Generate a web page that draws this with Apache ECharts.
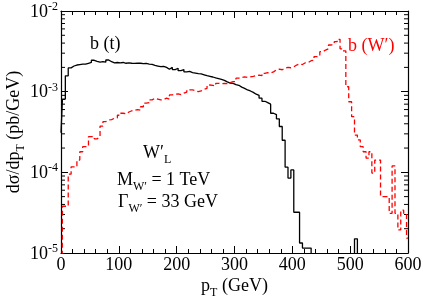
<!DOCTYPE html>
<html><head><meta charset="utf-8">
<script src="https://cdn.jsdelivr.net/npm/echarts@6/dist/echarts.min.js"></script>
<style>html,body{margin:0;padding:0;background:#fff}#c{width:423px;height:297px}</style>
</head><body><div id="c"></div>
<script>
// bin width 5 GeV, bin centres 0,5,...,600
var binWidth = 5;
var blackVals = [
3.1e-4,8.1e-4,1.57e-3,1.97e-3,2.08e-3,2.14e-3,2.17e-3,2.2e-3,2.2e-3,2.25e-3,
2.3e-3,2.45e-3,2.38e-3,2.33e-3,2.36e-3,2.32e-3,2.47e-3,2.35e-3,2.28e-3,2.3e-3,
2.27e-3,2.3e-3,2.25e-3,2.27e-3,2.25e-3,2.24e-3,2.26e-3,2.25e-3,2.23e-3,2.24e-3,
2.2e-3,2.18e-3,2.12e-3,2.08e-3,2.04e-3,2.06e-3,2.0e-3,1.9e-3,2.0e-3,1.88e-3,
1.95e-3,1.82e-3,1.88e-3,1.76e-3,1.78e-3,1.72e-3,1.7e-3,1.67e-3,1.66e-3,1.62e-3,
1.58e-3,1.55e-3,1.52e-3,1.48e-3,1.45e-3,1.42e-3,1.38e-3,1.32e-3,1.28e-3,1.27e-3,
1.22e-3,1.2e-3,1.14e-3,1.1e-3,1.05e-3,1.02e-3,9.8e-4,9.3e-4,9.0e-4,8.3e-4,
7.6e-4,7.3e-4,7.0e-4,5.4e-4,5.2e-4,4.6e-4,3.7e-4,2.5e-4,1.16e-4,8.5e-5,
1.07e-4,3.2e-5,3.2e-5,1.33e-5,1.15e-5,1.15e-5,1.15e-5,
0,0,0,0,0,0,0,0,0,0,0,0,0,0,0,
1.5e-5,
0,0,0,0,0,0,0,0,0,0,0,0,0,0,0,0,0,0
];
var redVals = [
0,3.8e-5,3.8e-5,9.5e-5,1.17e-4,1.17e-4,1.42e-4,1.8e-4,2.08e-4,2.1e-4,
2.77e-4,2.77e-4,2.6e-4,2.75e-4,3.75e-4,4.25e-4,4.45e-4,4.5e-4,4.68e-4,4.75e-4,
5.1e-4,5.4e-4,5.3e-4,5.6e-4,5.8e-4,5.9e-4,6.0e-4,5.9e-4,6.5e-4,7.2e-4,
7.3e-4,7.9e-4,8.3e-4,8.1e-4,7.9e-4,8.0e-4,8.3e-4,8.1e-4,9.1e-4,9.3e-4,
9.4e-4,9.2e-4,9.6e-4,9.9e-4,1.05e-3,1.05e-3,1.03e-3,1.0e-3,1.02e-3,1.07e-3,
1.1e-3,1.21e-3,1.2e-3,1.18e-3,1.27e-3,1.25e-3,1.27e-3,1.26e-3,1.29e-3,1.33e-3,
1.33e-3,1.47e-3,1.5e-3,1.53e-3,1.5e-3,1.53e-3,1.55e-3,1.58e-3,1.6e-3,1.58e-3,
1.69e-3,1.72e-3,1.7e-3,1.76e-3,1.86e-3,1.9e-3,1.87e-3,1.95e-3,2.0e-3,1.98e-3,
2.03e-3,2.14e-3,2.2e-3,2.17e-3,2.28e-3,2.3e-3,2.42e-3,2.45e-3,2.72e-3,2.75e-3,
3.13e-3,3.28e-3,3.4e-3,3.79e-3,3.9e-3,4.17e-3,4.46e-3,3.4e-3,3.2e-3,1.15e-3,
7.5e-4,4.9e-4,2.9e-4,2.52e-4,2.08e-4,1.8e-4,1.5e-4,1.8e-4,9.8e-5,1.42e-4,
1.42e-4,5.0e-5,5.0e-5,5.0e-5,3.1e-5,1.2e-4,3.1e-5,1.93e-5,3.4e-5,3.1e-5,
1.53e-5
];
var xTicks = [0,100,200,300,400,500,600];
var yDecades = [1e-5,1e-4,1e-3,1e-2];

var XMIN = 0, XMAX = 600, FLOOR = 1e-9;
function histPoints(vals){
  var pts = [];
  for (var i = 0; i < vals.length; i++){
    var c = i*binWidth;
    var lo = Math.max(XMIN, c - binWidth/2);
    pts.push([lo, vals[i] > 0 ? vals[i] : FLOOR]);
  }
  var last = vals[vals.length-1];
  pts.push([XMAX, last > 0 ? last : FLOOR]);
  return pts;
}
var minorVals = [];
for (var d = 0; d < yDecades.length-1; d++){
  for (var k = 2; k <= 9; k++) minorVals.push([0, yDecades[d]*k]);
}
var FONT = 'Liberation Serif';
var subRich = {
  a:{fontFamily:FONT, fontSize:18, color:'#000', fill:'#000', verticalAlign:'bottom'},
  s:{fontFamily:FONT, fontSize:12, color:'#000', fill:'#000', verticalAlign:'bottom', padding:[0,0,-4,0]}
};
var chart = echarts.init(document.getElementById('c'), null, {renderer:'canvas'});
var xAxisCommon = {
  type:'value', min:XMIN, max:XMAX, interval:100,
  axisLine:{show:true, onZero:false, lineStyle:{color:'#000', width:1.2}},
  axisTick:{show:true, inside:true, length:7, lineStyle:{color:'#000'}},
  minorTick:{show:true, splitNumber:5, length:4, lineStyle:{color:'#000'}},
  splitLine:{show:false}
};
var yAxisCommon = {
  type:'log', logBase:10, min:1e-5, max:1e-2,
  axisLine:{show:true, onZero:false, lineStyle:{color:'#000', width:1.2}},
  axisTick:{show:true, inside:true, length:7, lineStyle:{color:'#000'}},
  splitLine:{show:false}
};
chart.setOption({
  animation:false,
  backgroundColor:'#fff',
  grid:{left:61, right:15, top:11, bottom:44, containLabel:false, outerBoundsMode:'none'},
  xAxis:[
    Object.assign({}, xAxisCommon, {
      position:'bottom',
      axisLabel:{color:'#000', fontFamily:FONT, fontSize:18, margin:3},
      name:'{a|p}{s|T}{a| (GeV)}', nameLocation:'middle', nameGap:24, nameMoveOverlap:false,
      nameTextStyle:{rich:subRich}
    }),
    Object.assign({}, xAxisCommon, {position:'top', axisLabel:{show:false}})
  ],
  yAxis:[
    Object.assign({}, yAxisCommon, {
      position:'left',
      axisLabel:{
        margin:3,
        formatter:function(v){ return '{b|10}{s|' + Math.round(Math.log10(v)) + '}'; },
        rich:{
          b:{fontFamily:FONT, fontSize:18, color:'#000', lineHeight:20, verticalAlign:'bottom'},
          s:{fontFamily:FONT, fontSize:12, color:'#000', lineHeight:20, verticalAlign:'top'}
        }
      },
      name:'{a|dσ/dp}{s|T}{a| (pb/GeV)}', nameLocation:'middle', nameGap:38, nameRotate:90,
      nameMoveOverlap:false,
      nameTextStyle:{rich:subRich}
    }),
    Object.assign({}, yAxisCommon, {position:'right', axisLabel:{show:false}})
  ],
  series:[
    {type:'line', name:'b (t)', data:histPoints(blackVals), step:'end', showSymbol:false, symbol:'none',
     clip:true, lineStyle:{color:'#000', width:1.3}, xAxisIndex:0, yAxisIndex:0, z:3},
    {type:'line', name:"b (W')", data:histPoints(redVals), step:'end', showSymbol:false, symbol:'none',
     clip:true, lineStyle:{color:'#ff0000', width:1.3, type:[5,3]}, xAxisIndex:0, yAxisIndex:0, z:4},
    {type:'custom', data:minorVals, xAxisIndex:0, yAxisIndex:0, silent:true, clip:false,
     encode:{x:0, y:1},
     renderItem:function(params, api){
       var cs = params.coordSys;
       var y = api.coord([0, api.value(1)])[1];
       return {type:'group', children:[
         {type:'line', shape:{x1:cs.x, y1:y, x2:cs.x+4, y2:y}, style:{stroke:'#000', lineWidth:1}},
         {type:'line', shape:{x1:cs.x+cs.width-4, y1:y, x2:cs.x+cs.width, y2:y}, style:{stroke:'#000', lineWidth:1}}
       ]};
     }}
  ],
  graphic:[
    {type:'text', left:90, top:35, style:{text:'b (t)', fill:'#000', font:'18px "Liberation Serif"'}},
    {type:'text', left:348, top:37, style:{text:'b (W′)', fill:'#ff0000', font:'18px "Liberation Serif"'}},
    {type:'text', left:143, top:144, style:{text:'{a|W′}{s|L}', rich:subRich}},
    {type:'text', left:117, top:171, style:{text:'{a|M}{s|W′}{a| = 1 TeV}', rich:subRich}},
    {type:'text', left:118, top:193, style:{text:'{a|Γ}{s|W′}{a| = 33 GeV}', rich:subRich}}
  ]
});
</script></body></html>
